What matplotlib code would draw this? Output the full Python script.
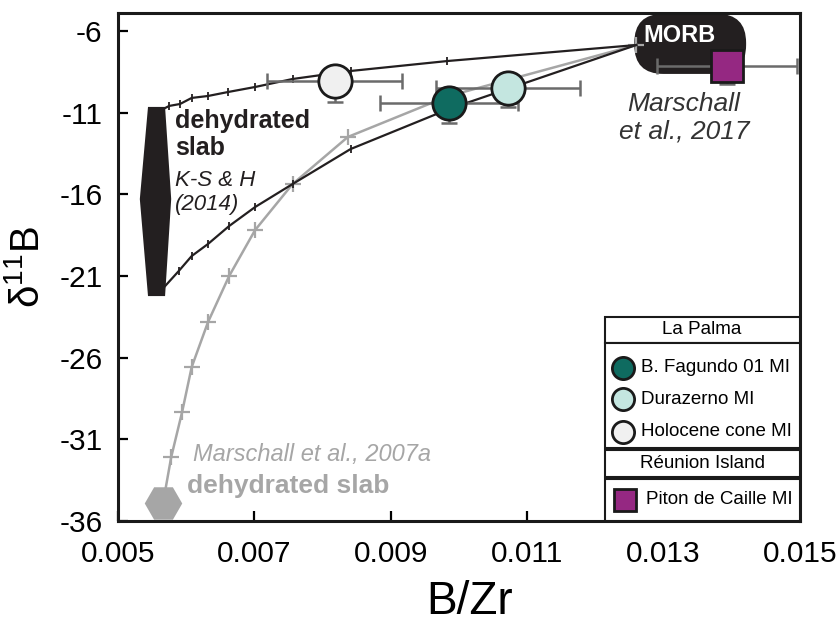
import matplotlib
matplotlib.use("Agg")
import matplotlib.pyplot as plt
from matplotlib.patches import Polygon, FancyBboxPatch, Rectangle

plt.rcParams['font.family'] = ['Liberation Sans', 'DejaVu Sans']

# ---- data ----
# mixing curve 1 (MORB -> dehydrated slab top, K-S & H 2014)
mix1_x = [0.00569, 0.00575, 0.00591, 0.00608, 0.00632, 0.00661, 0.00701, 0.00756, 0.00841, 0.00983, 0.0126]
mix1_y = [-10.72, -10.59, -10.47, -10.10, -9.98, -9.74, -9.43, -8.94, -8.45, -7.84, -6.86]
# mixing curve 2 (MORB -> dehydrated slab bottom)
mix2_x = [0.00569, 0.00589, 0.00608, 0.00632, 0.00663, 0.00701, 0.00756, 0.00841, 0.00985, 0.0126]
mix2_y = [-21.62, -20.70, -19.78, -19.04, -17.94, -16.78, -15.37, -13.23, -10.78, -6.86]
# mixing curve 3 (MORB -> Marschall et al. 2007a dehydrated slab)
mix3_x = [0.00566, 0.00578, 0.00594, 0.00608, 0.00632, 0.00663, 0.00701, 0.00756, 0.00837, 0.00985, 0.0126]
mix3_y = [-34.9, -32.09, -29.33, -26.58, -23.82, -21.0, -18.19, -15.37, -12.49, -9.98, -6.86]
mix3_tick = [True, True, True, True, True, True, True, True, True, False, True]

# K-S & H (2014) dehydrated slab field
slab_x = [0.00544, 0.00569, 0.00578, 0.00569, 0.00544, 0.00532]
slab_y = [-10.65, -10.65, -16.29, -22.23, -22.23, -16.29]
# MORB field extent
morb_x = [0.01257, 0.01421]
morb_y = [-8.63, -4.95]
# Marschall 2007a slab end-member
m07_x = [0.00566]
m07_y = [-34.9]

# samples
names = ['B. Fagundo 01 MI', 'Durazerno MI', 'Holocene cone MI', 'Piton de Caille MI']
samp_x = [0.00985, 0.01072, 0.00818, 0.01393]
samp_y = [-10.41, -9.49, -9.06, -8.14]
samp_xerr = [0.00101, 0.00105, 0.00099, 0.00103]
samp_yerr_lo = [1.22, 1.16, 1.29, 1.10]
samp_color = ['#0f6b60', '#c4e6e0', '#f0f0f0', '#952882']
samp_marker = ['o', 'o', 'o', 's']

xticks = [0.005, 0.007, 0.009, 0.011, 0.013, 0.015]
yticks = [-36, -31, -26, -21, -16, -11, -6]

# ---- figure ----
W, H = 838, 634
fig = plt.figure(figsize=(W / 100, H / 100), dpi=100)
L, R, T, B = 118, 800, 13, 521
ax = fig.add_axes([L / W, 1 - B / H, (R - L) / W, (B - T) / H])
ax.set_xlim(0.005, 0.015)
ax.set_ylim(-36, -4.9)

def axfrac(px, py):
    return ((px - L) / (R - L), (B - py) / (B - T))

# slab field
ax.add_patch(Polygon(list(zip(slab_x, slab_y)), closed=True, facecolor='#231f20',
                     edgecolor='none', zorder=2))
# MORB field
xs_per_px = 0.01 / 682
ys_per_px = 31.1 / 508
morb = FancyBboxPatch((morb_x[0], morb_y[0]), morb_x[1] - morb_x[0], morb_y[1] - morb_y[0],
                      boxstyle="round,pad=0,rounding_size=%g" % (29 * xs_per_px),
                      mutation_aspect=ys_per_px / xs_per_px,
                      facecolor='#231f20', edgecolor='none', zorder=2)
ax.add_patch(morb)
ax.text(0.01323, -6.3, 'MORB', color='white', fontsize=17, fontweight='bold',
        ha='center', va='center', zorder=6)

# curves
ax.plot(mix3_x, mix3_y, color='#a6a6a6', lw=1.8, zorder=3)
ax.plot([x for x, t in zip(mix3_x, mix3_tick) if t], [y for y, t in zip(mix3_y, mix3_tick) if t],
        ls='none', marker='+', ms=11, mew=1.6, color='#a6a6a6', zorder=3)
ax.plot(mix1_x, mix1_y, color='#231f20', lw=1.6, zorder=3)
ax.plot(mix1_x[1:-1], mix1_y[1:-1], ls='none', marker='|', ms=6, mew=1.3, color='#231f20', zorder=3)
ax.plot(mix2_x, mix2_y, color='#231f20', lw=1.6, zorder=3)
ax.plot(mix2_x[1:-1], mix2_y[1:-1], ls='none', marker='|', ms=6, mew=1.3, color='#231f20', zorder=3)

# Marschall 2007a hexagon
ax.plot(m07_x, m07_y, marker='H', ms=27, color='#a6a6a6', mec='none', ls='none',
        zorder=3, clip_on=False)

# samples with error bars
for i in range(len(names)):
    ax.errorbar([samp_x[i]], [samp_y[i]], xerr=[samp_xerr[i]], yerr=[[samp_yerr_lo[i]], [0]],
                fmt='none', ecolor='#6b6b6b', elinewidth=1.8, capsize=6, capthick=1.8,
                zorder=4, clip_on=False)
    ms = 24 if samp_marker[i] == 'o' else 23
    ax.plot([samp_x[i]], [samp_y[i]], marker=samp_marker[i], ms=ms, mfc=samp_color[i],
            mec='#1a1a1a', mew=2, ls='none', zorder=5, clip_on=False)

# annotations
ax.text(0.005835, -10.78, 'dehydrated\nslab', fontsize=18, fontweight='bold', color='#231f20',
        ha='left', va='top', linespacing=1.15, zorder=6)
ax.text(0.005835, -14.5, 'K-S & H\n(2014)', fontsize=16, style='italic', color='#231f20',
        ha='left', va='top', linespacing=1.2, zorder=6)
ax.text(0.0133, -11.3, 'Marschall\net al., 2017', fontsize=19, style='italic', color='#333333',
        ha='center', va='center', linespacing=1.2, zorder=6)
ax.text(0.0061, -31.9, 'Marschall et al., 2007a', fontsize=17, style='italic', color='#a6a6a6',
        ha='left', va='center', zorder=6)
ax.text(0.00601, -33.86, 'dehydrated slab', fontsize=19, fontweight='bold', color='#a6a6a6',
        ha='left', va='center', zorder=6)

# legend (drawn manually)
for (y0, y1) in [(317, 343), (343, 448), (450, 477), (479, 521)]:
    x0a, y1a = axfrac(605, y1)
    x1a, y0a = axfrac(800, y0)
    ax.add_patch(Rectangle((x0a, y1a), x1a - x0a, y0a - y1a, transform=ax.transAxes,
                           facecolor='white', edgecolor='#1a1a1a', lw=1.5, zorder=7, clip_on=False))
lx, ly = axfrac(702, 330)
ax.text(lx, ly, 'La Palma', transform=ax.transAxes, fontsize=13.5, ha='center', va='center', zorder=8)
lx, ly = axfrac(702, 463)
ax.text(lx, ly, 'Réunion Island', transform=ax.transAxes, fontsize=13.5, ha='center', va='center', zorder=8)
leg_rows = [368, 399, 432, 500]
for i in range(len(names)):
    mx, my = axfrac(623 if samp_marker[i] == 'o' else 625, leg_rows[i])
    ms = 16 if samp_marker[i] == 'o' else 16.5
    ax.plot([mx], [my], marker=samp_marker[i], ms=ms, mfc=samp_color[i], mec='#1a1a1a', mew=2,
            transform=ax.transAxes, zorder=8, clip_on=False, ls='none')
    tx, ty = axfrac(641 if samp_marker[i] == 'o' else 646, leg_rows[i])
    ax.text(tx, ty, names[i], transform=ax.transAxes, fontsize=13.5, ha='left', va='center', zorder=8)

# axes styling
ax.set_xticks(xticks)
ax.set_xticklabels(['%.3f' % v for v in xticks])
ax.set_yticks(yticks)
ax.set_yticklabels(['%d' % v for v in yticks])
ax.tick_params(direction='in', length=7, width=1.6)
ax.tick_params(axis='x', labelsize=21.5, pad=14)
ax.tick_params(axis='y', labelsize=21.5, pad=11)
for s in ax.spines.values():
    s.set_linewidth(2.2)
    s.set_color('#1a1a1a')
ax.set_xlabel('B/Zr', fontsize=33)
ax.xaxis.set_label_coords((470 - L) / (R - L), (B - 580) / (B - T))
ax.set_ylabel(r'$\mathregular{\delta^{11}B}$', fontsize=29)
ax.yaxis.set_label_coords((47 - L) / (R - L), 0.5)

fig.savefig('out.png', dpi=100)
